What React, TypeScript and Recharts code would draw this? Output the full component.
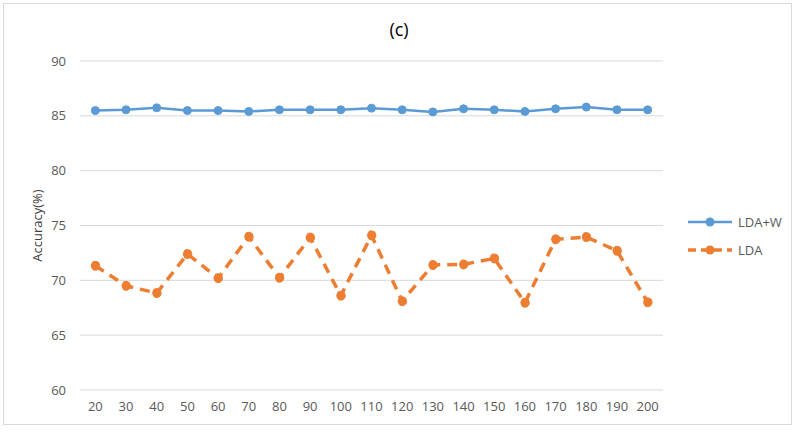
import React from "react";
import {
    LineChart, Line, XAxis, YAxis, CartesianGrid,
} from "recharts";

// number of features on the x axis
const featureCounts = [20, 30, 40, 50, 60, 70, 80, 90, 100, 110, 120, 130, 140, 150, 160, 170, 180, 190, 200];

// accuracy (%) per feature count
const ldaW = [85.48, 85.55, 85.73, 85.48, 85.48, 85.4, 85.55, 85.55, 85.55, 85.7, 85.55, 85.36, 85.64, 85.55, 85.4, 85.64, 85.8, 85.55, 85.55];
const lda = [71.33, 69.5, 68.84, 72.4, 70.2, 73.98, 70.24, 73.9, 68.6, 74.1, 68.1, 71.4, 71.45, 72.0, 67.96, 73.74, 73.95, 72.7, 68.0];

const yTicks = [60, 65, 70, 75, 80, 85, 90];

const BLUE = "#5b9bd5";
const ORANGE = "#ed7d31";
const FONT = "'Open Sans', 'Noto Sans', sans-serif";

const data = featureCounts.map((n, i) => ({ n, ldaW: ldaW[i], lda: lda[i] }));

const series = [
    { name: "LDA+W", color: BLUE, dashed: false },
    { name: "LDA", color: ORANGE, dashed: true },
];

function LegendBox() {
    return (
        <div
            style={{
                position: "absolute", left: 686, top: 208,
                fontFamily: FONT, fontSize: 13, color: "#595959",
            }}
        >
            {series.map((s) => (
                <div key={s.name} style={{ display: "flex", alignItems: "center", height: 28 }}>
                    <svg width={48} height={12}>
                        <line
                            x1={2} y1={6} x2={46} y2={6}
                            stroke={s.color}
                            strokeWidth={s.dashed ? 3.5 : 2.5}
                            strokeDasharray={s.dashed ? "8 5" : undefined}
                        />
                        <circle cx={24} cy={6} r={4.5} fill={s.color} />
                    </svg>
                    <span style={{ marginLeft: 4 }}>{s.name}</span>
                </div>
            ))}
        </div>
    );
}

export default function App() {
    return (
        <div style={{ position: "fixed", left: 0, top: 0, width: 798, height: 436, background: "#fff" }}>
            <div
                style={{
                    position: "absolute", left: 3, top: 3, width: 789, height: 422,
                    border: "1px solid #d9d9d9", boxSizing: "border-box",
                }}
            />
            <div
                style={{
                    position: "absolute", left: 0, top: 17, width: 798, textAlign: "center",
                    fontFamily: FONT, fontSize: 18, color: "#000",
                }}
            >
                (c)
            </div>
            <LineChart
                width={798}
                height={436}
                data={data}
                margin={{ top: 61, right: 135, bottom: 16, left: 0 }}
                style={{ position: "absolute", left: 0, top: 0, fontFamily: FONT }}
            >
                <CartesianGrid vertical={false} stroke="#d9d9d9" strokeWidth={1} />
                <XAxis
                    dataKey="n"
                    scale="band"
                    height={30}
                    axisLine={false}
                    tickLine={false}
                    tickSize={0}
                    tickMargin={12}
                    interval={0}
                    tick={{ fill: "#595959", fontSize: 13 }}
                />
                <YAxis
                    domain={[60, 90]}
                    ticks={yTicks}
                    width={80}
                    axisLine={false}
                    tickLine={false}
                    tickSize={0}
                    tickMargin={14}
                    tick={{ fill: "#595959", fontSize: 13 }}
                    label={{
                        value: "Accuracy(%)", angle: -90, position: "insideLeft",
                        offset: 37, style: { fill: "#404040", fontSize: 13, textAnchor: "middle" },
                    }}
                />
                <Line
                    dataKey="ldaW"
                    name="LDA+W"
                    stroke={BLUE}
                    strokeWidth={2.5}
                    dot={{ r: 4, fill: BLUE, stroke: BLUE, strokeWidth: 1 }}
                    isAnimationActive={false}
                />
                <Line
                    dataKey="lda"
                    name="LDA"
                    stroke={ORANGE}
                    strokeWidth={3.5}
                    strokeDasharray="10 7"
                    dot={{ r: 4.5, fill: ORANGE, stroke: ORANGE, strokeWidth: 1 }}
                    isAnimationActive={false}
                />
            </LineChart>
            <LegendBox />
        </div>
    );
}
